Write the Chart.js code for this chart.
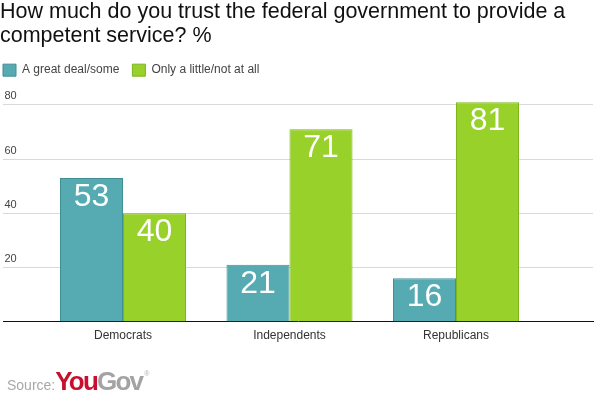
<!DOCTYPE html>
<html>
<head>
<meta charset="utf-8">
<script src="https://cdn.jsdelivr.net/npm/chart.js@4/dist/chart.umd.min.js"></script>
<style>
  html, body { margin: 0; padding: 0; background: #fff; }
  #wrap { position: relative; width: 596px; height: 397px; overflow: hidden; }
  #c { position: absolute; left: 0; top: 0; }
  #source { position: absolute; left: 7px; top: 366px; font-family: "Liberation Sans", Arial, sans-serif; white-space: nowrap; }
  #source .s { font-size: 14px; color: #a8a8a8; vertical-align: baseline; }
  #source .you { font-size: 26px; font-weight: bold; color: #c8102e; letter-spacing: -1.8px; }
  #source .gov { font-size: 26px; font-weight: bold; color: #a3a3a3; letter-spacing: -1.8px; }
  #source .r { font-size: 7px; color: #b0b0b0; vertical-align: 14px; margin-left: 2px; }
</style>
</head>
<body>
<div id="wrap">
  <canvas id="c" width="596" height="397"></canvas>
  <div id="source"><span class="s">Source:</span><span class="you">You</span><span class="gov">Gov</span><span class="r">®</span></div>
</div>
<script>
const titleLines = ["How much do you trust the federal government to provide a", "competent service? %"];
const categories = ["Democrats", "Independents", "Republicans"];
const seriesNames = ["A great deal/some", "Only a little/not at all"];
const greatDealSome = [53, 21, 16];
const littleNotAtAll = [40, 71, 81];
const yTicks = [20, 40, 60, 80];

const toPoints = arr => arr.map((v, i) => ({ x: i, y: v }));

const valueLabels = {
  id: 'valueLabels',
  afterDatasetsDraw(chart) {
    const ctx = chart.ctx;
    ctx.save();
    ctx.fillStyle = '#ffffff';
    ctx.font = '32px "Liberation Sans", Arial, sans-serif';
    ctx.textAlign = 'center';
    ctx.textBaseline = 'middle';
    chart.data.datasets.forEach((ds, di) => {
      const meta = chart.getDatasetMeta(di);
      meta.data.forEach((bar, i) => {
        ctx.fillText(String(ds.data[i].y), bar.x, bar.y + 19);
      });
    });
    ctx.restore();
  }
};

const legendShift = {
  id: 'legendShift',
  afterLayout(chart) {
    if (chart.legend) {
      chart.legend.left -= 10;
      chart.legend.right -= 10;
    }
  }
};

new Chart(document.getElementById('c'), {
  type: 'bar',
  data: {
    datasets: [
      {
        label: seriesNames[0],
        data: toPoints(greatDealSome),
        backgroundColor: '#55abb1',
        borderColor: '#3f8f95',
        borderWidth: 1,
        borderSkipped: 'bottom'
      },
      {
        label: seriesNames[1],
        data: toPoints(littleNotAtAll),
        backgroundColor: '#98d12a',
        borderColor: '#7cb51c',
        borderWidth: 1,
        borderSkipped: 'bottom'
      }
    ]
  },
  options: {
    responsive: false,
    animation: false,
    devicePixelRatio: 1,
    layout: { padding: { left: 0, right: 3, top: 0, bottom: 47 } },
    datasets: { bar: { categoryPercentage: 0.757, barPercentage: 1.0 } },
    plugins: {
      title: {
        display: true,
        text: titleLines,
        align: 'start',
        color: '#111',
        font: { family: '"Liberation Sans", Arial, sans-serif', size: 21.5, weight: 'normal', lineHeight: 1.12 },
        padding: { top: 0, bottom: 3 }
      },
      legend: {
        display: true,
        align: 'start',
        labels: {
          boxWidth: 13,
          boxHeight: 12,
          padding: 13,
          color: '#444',
          font: { family: '"Liberation Sans", Arial, sans-serif', size: 12 }
        }
      },
      tooltip: { enabled: false }
    },
    scales: {
      x: {
        type: 'linear',
        offset: false,
        min: -0.7207,
        max: 2.8228,
        afterBuildTicks: s => { s.ticks = categories.map((_, i) => ({ value: i })); },
        grid: { display: false, drawTicks: false, offset: false },
        border: { display: true, color: '#111', width: 1 },
        ticks: {
          callback: v => categories[v],
          color: '#333',
          padding: 7,
          font: { family: '"Liberation Sans", Arial, sans-serif', size: 12 },
          maxRotation: 0,
          autoSkip: false
        }
      },
      y: {
        min: 0,
        max: 86.9,
        afterBuildTicks: s => { s.ticks = yTicks.map(v => ({ value: v })); },
        grid: { color: '#d9d9d9', lineWidth: 1, drawTicks: false },
        border: { display: false },
        ticks: {
          mirror: true,
          padding: 1.5,
          labelOffset: -8.5,
          color: '#444',
          font: { family: '"Liberation Sans", Arial, sans-serif', size: 11 }
        }
      }
    }
  },
  plugins: [valueLabels, legendShift]
});
</script>
</body>
</html>
